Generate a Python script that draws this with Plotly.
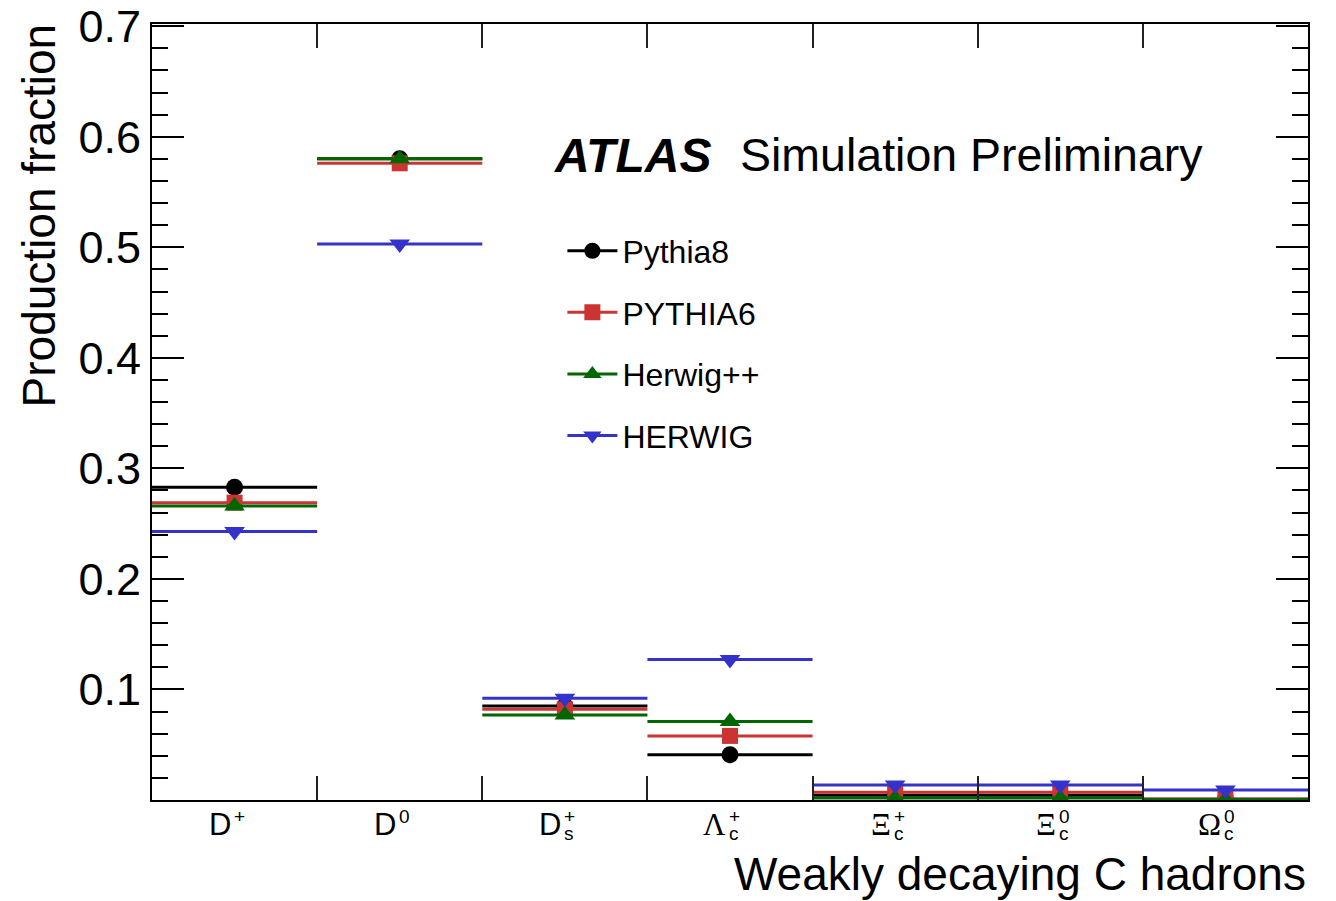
import plotly.graph_objects as go

# ---------------- data ----------------
categories = ["D+", "D0", "Ds+", "Lambda_c+", "Xi_c+", "Xi_c0", "Omega_c0"]
label_base = ["D", "D", "D", "Λ", "Ξ", "Ξ", "Ω"]
label_sup = ["+", "0", "+", "+", "+", "0", "0"]
label_sub = ["", "", "s", "c", "c", "c", "c"]

pythia8 = [0.283, 0.580, 0.085, 0.041, 0.0042, 0.0042, 0.0006]
pythia6 = [0.269, 0.576, 0.082, 0.058, 0.0069, 0.0069, 0.0008]
herwigpp = [0.266, 0.580, 0.077, 0.071, 0.0017, 0.0017, 0.0004]
herwig = [0.243, 0.503, 0.092, 0.127, 0.0135, 0.0135, 0.0090]

y_ticks = [0.1, 0.2, 0.3, 0.4, 0.5, 0.6, 0.7]

series = [
    ("Pythia8", pythia8, "#000000", "circle", 17),
    ("PYTHIA6", pythia6, "#cc3333", "square", 16),
    ("Herwig++", herwigpp, "#006600", "triangle-up", 18),
    ("HERWIG", herwig, "#3333cc", "triangle-down", 18),
]

SANS = "Liberation Sans, Arial, Helvetica, sans-serif"
SERIF = "Liberation Serif, Times New Roman, serif"

fig = go.Figure()
n = len(categories)
for name, vals, col, sym, ms in series:
    xs, ys = [], []
    for i, v in enumerate(vals):
        xs += [i, i + 1, None]
        ys += [v, v, None]
    fig.add_trace(go.Scatter(x=xs, y=ys, mode="lines", line=dict(color=col, width=3),
                             showlegend=False, hoverinfo="skip"))
    fig.add_trace(go.Scatter(x=[i + 0.5 for i in range(n)], y=vals, mode="markers",
                             marker=dict(color=col, symbol=sym, size=ms, line=dict(width=0)),
                             showlegend=False, name=name))
# legend entries
for k, (name, vals, col, sym, ms) in enumerate(series):
    fig.add_trace(go.Scatter(x=[None], y=[None], mode="lines+markers", name=name,
                             line=dict(color=col, width=3),
                             marker=dict(color=col, symbol=sym, size=ms, line=dict(width=0)),
                             legendgroup=f"g{k}", showlegend=True))

annotations = []
for i in range(n):
    c = i + 0.5
    base_font = SANS if label_base[i] == "D" else SERIF
    annotations.append(dict(x=c, y=-0.032, xref="x", yref="paper", text=label_base[i],
                            xanchor="right", yanchor="middle", xshift=-2, showarrow=False,
                            font=dict(family=base_font, size=31, color="black")))
    annotations.append(dict(x=c, y=-0.021, xref="x", yref="paper", text=label_sup[i],
                            xanchor="left", yanchor="middle", xshift=-2, showarrow=False,
                            borderpad=0, font=dict(family=SANS, size=19, color="black")))
    if label_sub[i]:
        annotations.append(dict(x=c, y=-0.043, xref="x", yref="paper", text=label_sub[i],
                                xanchor="left", yanchor="middle", xshift=-2, showarrow=False,
                                borderpad=0, font=dict(family=SANS, size=19, color="black")))

# axis titles and ATLAS label
annotations += [
    dict(x=-0.098, y=1.003, xref="paper", yref="paper", text="Production fraction",
         textangle=-90, xanchor="center", yanchor="top", showarrow=False,
         font=dict(family=SANS, size=46, color="black")),
    dict(x=1.0, y=-0.095, xref="paper", yref="paper", text="Weakly decaying C hadrons",
         xanchor="right", yanchor="middle", showarrow=False,
         font=dict(family=SANS, size=46, color="black")),
    dict(x=0.346, y=0.831, xref="paper", yref="paper", text="<b><i>ATLAS</i></b>",
         xanchor="left", yanchor="middle", showarrow=False,
         font=dict(family=SANS, size=48, color="black")),
    dict(x=0.5065, y=0.831, xref="paper", yref="paper", text="Simulation Preliminary",
         xanchor="left", yanchor="middle", showarrow=False,
         font=dict(family=SANS, size=46.5, color="black")),
]

fig.update_layout(
    width=1336, height=901,
    margin=dict(l=152, r=28, t=24, b=101),
    paper_bgcolor="white", plot_bgcolor="white",
    font=dict(family=SANS, color="black"),
    showlegend=True,
    legend=dict(x=0.355, y=0.743, xanchor="left", yanchor="top",
                font=dict(family=SANS, size=32, color="black"),
                bgcolor="rgba(0,0,0,0)", tracegroupgap=17, itemwidth=50),
    annotations=annotations,
    xaxis=dict(range=[0, n], tickmode="array", tickvals=list(range(1, n)),
               ticktext=[""] * (n - 1), ticks="inside", ticklen=24, tickwidth=1.5,
               tickcolor="#222", showline=True, linecolor="black", linewidth=2,
               mirror="ticks", showgrid=False, zeroline=False, automargin=False),
    yaxis=dict(range=[0, 0.702], tickmode="array", tickvals=y_ticks,
               ticktext=[f"{v:.1f}" for v in y_ticks], ticks="inside", ticklen=32,
               tickwidth=2, tickcolor="black", showline=True, linecolor="black",
               linewidth=2, mirror="ticks", showgrid=False, zeroline=False,
               automargin=False,
               tickfont=dict(family=SANS, size=45, color="black"),
               minor=dict(dtick=0.02, tick0=0, ticks="inside", ticklen=16,
                          tickwidth=2, tickcolor="black", showgrid=False)),
)

fig.write_html("out.html")
